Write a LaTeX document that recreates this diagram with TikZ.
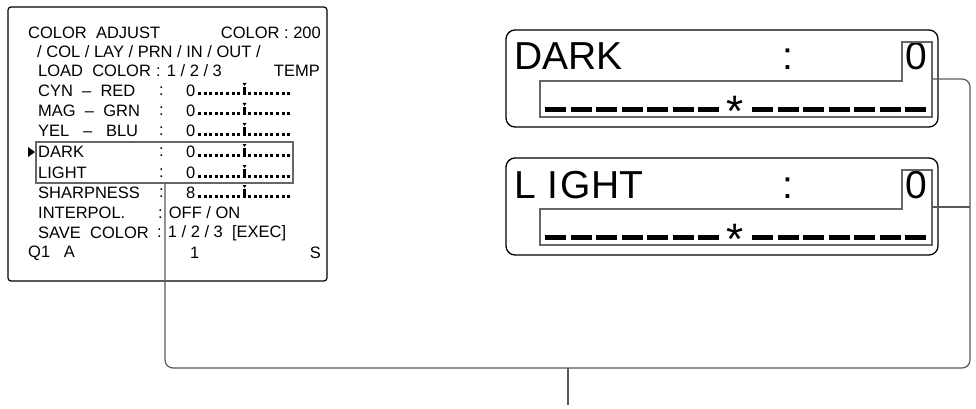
\documentclass[tikz,border=0pt]{standalone}
\usepackage{fontspec}
\setmainfont{Liberation Sans}
\begin{document}
\begin{tikzpicture}[x=1pt,y=-1pt,
  sm/.style={anchor=west,inner sep=0pt,font=\fontsize{16.5}{17}\selectfont},
  big/.style={anchor=base west,inner sep=0pt,font=\fontsize{39}{40}\selectfont},
  hl/.style={draw=gray!80!black,line width=1.3pt},
  conn/.style={draw=gray!70!black,line width=1.2pt,rounded corners=8pt},
  bar/.style={line width=3pt,dash pattern=on 3pt off 2.6pt}]
\useasboundingbox (0,0) rectangle (976,409);
% left panel
\draw[line width=1.2pt,rounded corners=3pt] (8,7) -- (327,7) -- (327,281) -- (8,281) -- cycle;
\node[sm] (t1) at (28,33) {COLOR\ \ ADJUST};
\node[sm,anchor=east] (t1b) at (321,33) {COLOR : 200};
\node[sm] (t2) at (37,52) {/ COL / LAY / PRN / IN / OUT /};
\node[sm] (t3) at (38,71) {LOAD\ \ COLOR};
\node[sm] (t3b) at (156,71) {: 1 / 2 / 3};
\node[sm,anchor=east] (t3c) at (320,71) {TEMP};
\foreach \y/\lab/\v [count=\i] in {91/CYN\ \ –\ \ RED/0,111/MAG\ \ –\ \ GRN/0,131/YEL\ \ \ –\ \ \ BLU/0,152/DARK/0,173/LIGHT/0,193/SHARPNESS/8}{
  \node[sm] (l\i) at (38,\y) {\lab};
  \node[sm] (c\i) at (159,\y) {:};
  \node[sm] (v\i) at (186,\y) {\v};
  \draw[bar] (198,\y+3) -- (242,\y+3);
  \draw[bar] (248,\y+3) -- (291,\y+3);
  \draw[line width=2.4pt] (244.5,\y-4) -- (244.5,\y+4.5);
  \fill (242.5,\y-8) -- (246.5,\y-8) -- (244.5,\y-5) -- cycle;
}
\node[sm] (l7) at (38,213) {INTERPOL.};
\node[sm] (c7) at (158,213) {: OFF / ON};
\node[sm] (l8) at (38,233) {SAVE\ \ COLOR};
\node[sm] (c8) at (157,233) {: 1 / 2 / 3\ \ [EXEC]};
\node[sm] (q1) at (28,253) {Q1\ \ \ A};
\node[sm] (q2) at (190,253) {1};
\node[sm,anchor=east] (q3) at (321,253) {S};
\fill (28,147) -- (35,152) -- (28,157) -- cycle;
\draw[hl] (36,142) rectangle (293,183);
\coordinate (sel) at (165,183);
% right panels
\foreach \dy/\lab/\nm in {0/DARK/d,128/{L\hspace{12pt}I\hspace{2pt}GHT}/l}{
  \draw[line width=1.3pt,rounded corners=9pt] (506,30+\dy) rectangle (938,127+\dy);
  \node[big] (\nm t) at (514,70+\dy) {\lab};
  \node[big] (\nm c) at (782,70+\dy) {:};
  \node[big] (\nm v) at (905,70+\dy) {0};
  \draw[hl] (540,117+\dy) -- (540,81+\dy) -- (902,81+\dy) -- (902,42+\dy) -- (932,42+\dy) -- (932,117+\dy) -- cycle;
  \coordinate (\nm o) at (932,79+\dy);
  \foreach \k in {0,...,6}{
    \fill (545+\k*25.5,107+\dy) rectangle (566+\k*25.5,112+\dy);
    \fill (752+\k*25.5,107+\dy) rectangle (773+\k*25.5,112+\dy);
  }
  \node[inner sep=0pt,font=\fontsize{44}{44}\selectfont] (\nm s) at (735,111+\dy) {*};
}
\coordinate (br) at (970,368);
\coordinate (bl) at (165,368);
\coordinate (bot) at (568,405);
\draw[conn] (do) -- (970,79) -- (br) -- (bl) -- (sel);
\draw[conn] (lo) -- (970,207);
\draw[conn] (568,368) -- (bot);
\end{tikzpicture}
\end{document}
